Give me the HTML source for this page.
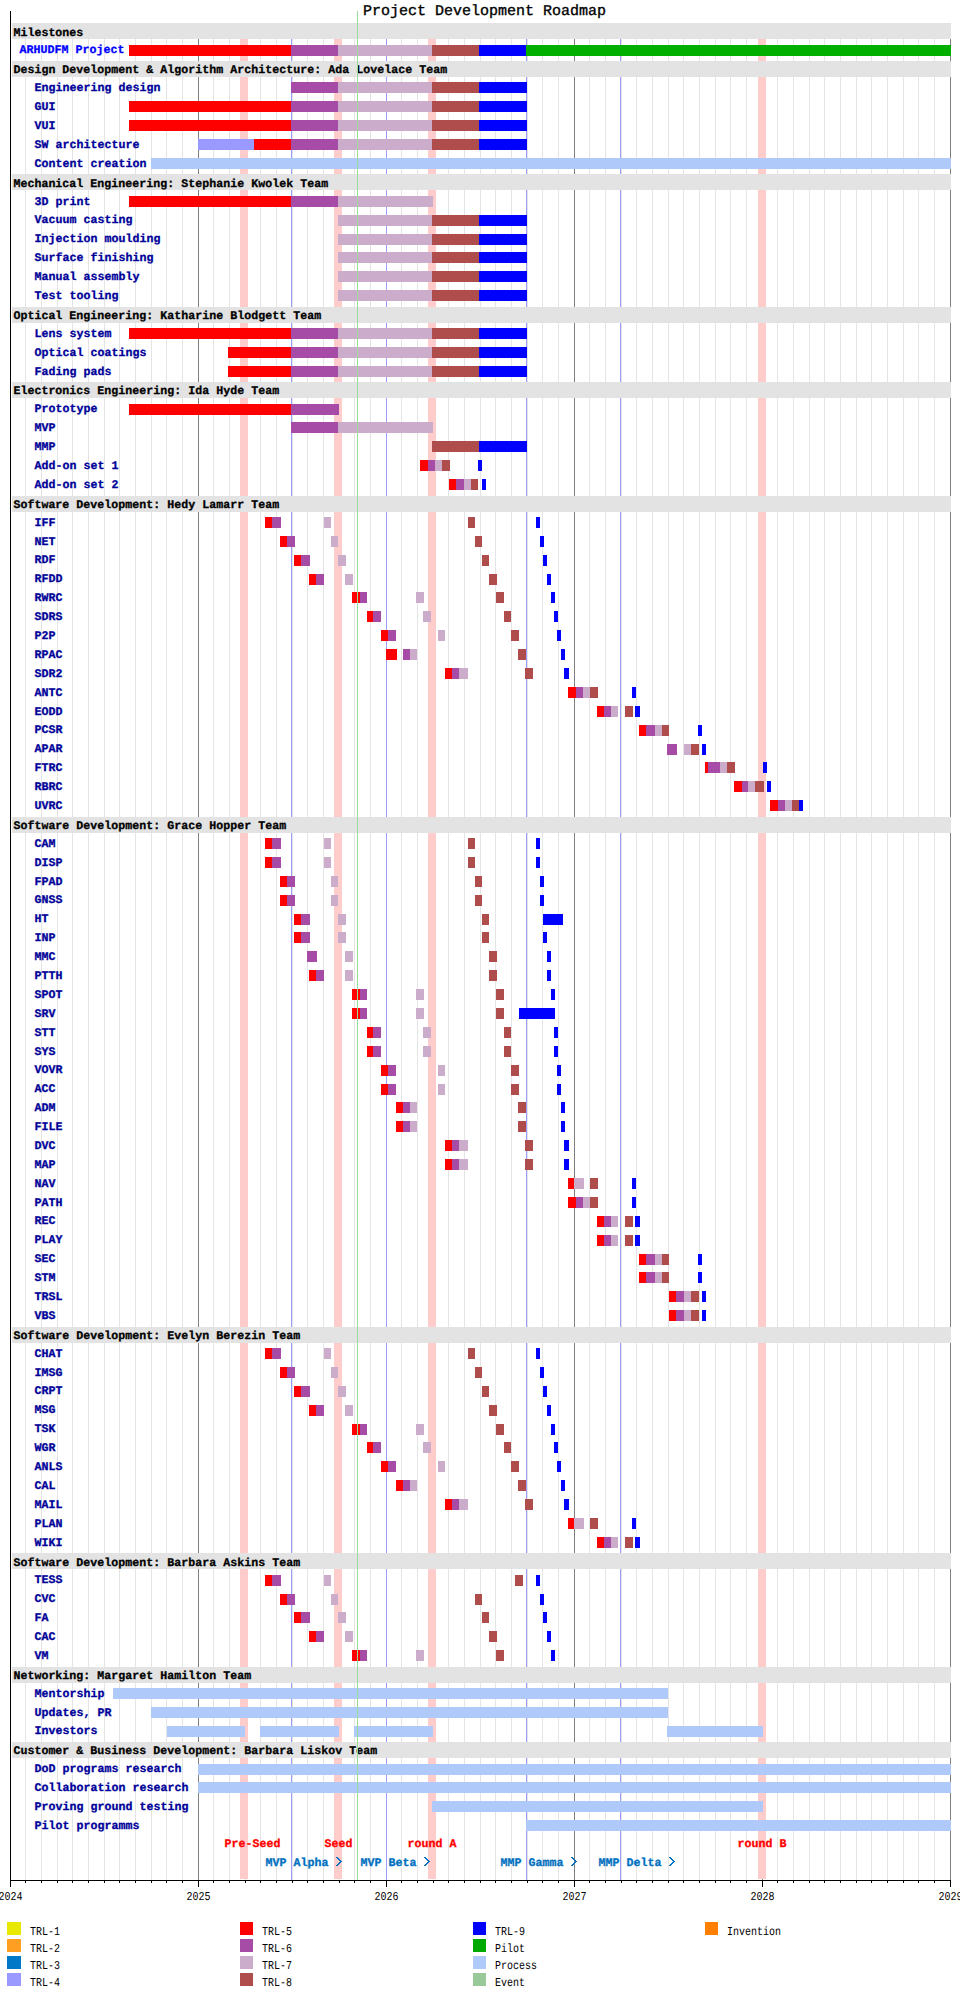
<!DOCTYPE html>
<html><head><meta charset="utf-8"><style>
html,body{margin:0;padding:0;background:#fff;}
svg{display:block;}
text{font-family:"Liberation Mono",monospace;}
.b{font-size:11.6px;font-weight:bold;letter-spacing:0.04px;stroke-width:0.3px;}
.yr{font-size:12px;}
.ti{font-size:15px;stroke-width:0.35px;}
.lg{font-size:12px;}
</style></head><body>
<svg width="960" height="2000" viewBox="0 0 960 2000" shape-rendering="crispEdges" text-rendering="geometricPrecision">
<rect x="0" y="0" width="960" height="2000" fill="#FFFFFF"/>
<rect x="25" y="39" width="1" height="1841" fill="#E4E4E4"/>
<rect x="41" y="39" width="1" height="1841" fill="#E4E4E4"/>
<rect x="57" y="39" width="1" height="1841" fill="#E4E4E4"/>
<rect x="72" y="39" width="1" height="1841" fill="#E4E4E4"/>
<rect x="88" y="39" width="1" height="1841" fill="#E4E4E4"/>
<rect x="104" y="39" width="1" height="1841" fill="#E4E4E4"/>
<rect x="119" y="39" width="1" height="1841" fill="#E4E4E4"/>
<rect x="135" y="39" width="1" height="1841" fill="#E4E4E4"/>
<rect x="151" y="39" width="1" height="1841" fill="#E4E4E4"/>
<rect x="166" y="39" width="1" height="1841" fill="#E4E4E4"/>
<rect x="182" y="39" width="1" height="1841" fill="#E4E4E4"/>
<rect x="213" y="39" width="1" height="1841" fill="#E4E4E4"/>
<rect x="229" y="39" width="1" height="1841" fill="#E4E4E4"/>
<rect x="245" y="39" width="1" height="1841" fill="#E4E4E4"/>
<rect x="260" y="39" width="1" height="1841" fill="#E4E4E4"/>
<rect x="276" y="39" width="1" height="1841" fill="#E4E4E4"/>
<rect x="292" y="39" width="1" height="1841" fill="#E4E4E4"/>
<rect x="307" y="39" width="1" height="1841" fill="#E4E4E4"/>
<rect x="323" y="39" width="1" height="1841" fill="#E4E4E4"/>
<rect x="339" y="39" width="1" height="1841" fill="#E4E4E4"/>
<rect x="354" y="39" width="1" height="1841" fill="#E4E4E4"/>
<rect x="370" y="39" width="1" height="1841" fill="#E4E4E4"/>
<rect x="401" y="39" width="1" height="1841" fill="#E4E4E4"/>
<rect x="417" y="39" width="1" height="1841" fill="#E4E4E4"/>
<rect x="433" y="39" width="1" height="1841" fill="#E4E4E4"/>
<rect x="448" y="39" width="1" height="1841" fill="#E4E4E4"/>
<rect x="464" y="39" width="1" height="1841" fill="#E4E4E4"/>
<rect x="480" y="39" width="1" height="1841" fill="#E4E4E4"/>
<rect x="495" y="39" width="1" height="1841" fill="#E4E4E4"/>
<rect x="511" y="39" width="1" height="1841" fill="#E4E4E4"/>
<rect x="527" y="39" width="1" height="1841" fill="#E4E4E4"/>
<rect x="542" y="39" width="1" height="1841" fill="#E4E4E4"/>
<rect x="558" y="39" width="1" height="1841" fill="#E4E4E4"/>
<rect x="589" y="39" width="1" height="1841" fill="#E4E4E4"/>
<rect x="605" y="39" width="1" height="1841" fill="#E4E4E4"/>
<rect x="621" y="39" width="1" height="1841" fill="#E4E4E4"/>
<rect x="636" y="39" width="1" height="1841" fill="#E4E4E4"/>
<rect x="652" y="39" width="1" height="1841" fill="#E4E4E4"/>
<rect x="668" y="39" width="1" height="1841" fill="#E4E4E4"/>
<rect x="683" y="39" width="1" height="1841" fill="#E4E4E4"/>
<rect x="699" y="39" width="1" height="1841" fill="#E4E4E4"/>
<rect x="715" y="39" width="1" height="1841" fill="#E4E4E4"/>
<rect x="730" y="39" width="1" height="1841" fill="#E4E4E4"/>
<rect x="746" y="39" width="1" height="1841" fill="#E4E4E4"/>
<rect x="777" y="39" width="1" height="1841" fill="#E4E4E4"/>
<rect x="793" y="39" width="1" height="1841" fill="#E4E4E4"/>
<rect x="809" y="39" width="1" height="1841" fill="#E4E4E4"/>
<rect x="824" y="39" width="1" height="1841" fill="#E4E4E4"/>
<rect x="840" y="39" width="1" height="1841" fill="#E4E4E4"/>
<rect x="856" y="39" width="1" height="1841" fill="#E4E4E4"/>
<rect x="871" y="39" width="1" height="1841" fill="#E4E4E4"/>
<rect x="887" y="39" width="1" height="1841" fill="#E4E4E4"/>
<rect x="903" y="39" width="1" height="1841" fill="#E4E4E4"/>
<rect x="918" y="39" width="1" height="1841" fill="#E4E4E4"/>
<rect x="934" y="39" width="1" height="1841" fill="#E4E4E4"/>
<rect x="198" y="39" width="1" height="1841" fill="#7F7F7F"/>
<rect x="386" y="39" width="1" height="1841" fill="#7F7F7F"/>
<rect x="574" y="39" width="1" height="1841" fill="#7F7F7F"/>
<rect x="762" y="39" width="1" height="1841" fill="#7F7F7F"/>
<rect x="950" y="39" width="1" height="1841" fill="#7F7F7F"/>
<rect x="240" y="39" width="8" height="1840" fill="#FFCCCC"/>
<rect x="334" y="39" width="8" height="1840" fill="#FFCCCC"/>
<rect x="428" y="39" width="8" height="1840" fill="#FFCCCC"/>
<rect x="758" y="39" width="8" height="1840" fill="#FFCCCC"/>
<rect x="291" y="39" width="1" height="1841" fill="#9C9CFF"/>
<rect x="386" y="39" width="1" height="1841" fill="#9C9CFF"/>
<rect x="526" y="39" width="1" height="1841" fill="#9C9CFF"/>
<rect x="620" y="39" width="1" height="1841" fill="#9C9CFF"/>
<rect x="12" y="23" width="939" height="16" fill="#E3E3E3"/>
<rect x="12" y="61" width="939" height="16" fill="#E3E3E3"/>
<rect x="12" y="174" width="939" height="16" fill="#E3E3E3"/>
<rect x="12" y="307" width="939" height="16" fill="#E3E3E3"/>
<rect x="12" y="382" width="939" height="16" fill="#E3E3E3"/>
<rect x="12" y="496" width="939" height="16" fill="#E3E3E3"/>
<rect x="12" y="817" width="939" height="16" fill="#E3E3E3"/>
<rect x="12" y="1327" width="939" height="16" fill="#E3E3E3"/>
<rect x="12" y="1553" width="939" height="16" fill="#E3E3E3"/>
<rect x="12" y="1667" width="939" height="16" fill="#E3E3E3"/>
<rect x="12" y="1742" width="939" height="16" fill="#E3E3E3"/>
<rect x="129" y="45" width="162" height="11" fill="#FF0000"/>
<rect x="291" y="45" width="47" height="11" fill="#A64CA6"/>
<rect x="338" y="45" width="94" height="11" fill="#CBADCB"/>
<rect x="432" y="45" width="47" height="11" fill="#AF4C4C"/>
<rect x="479" y="45" width="47" height="11" fill="#0000FF"/>
<rect x="526" y="45" width="425" height="11" fill="#00AF00"/>
<rect x="291" y="82" width="47" height="11" fill="#A64CA6"/>
<rect x="338" y="82" width="94" height="11" fill="#CBADCB"/>
<rect x="432" y="82" width="47" height="11" fill="#AF4C4C"/>
<rect x="479" y="82" width="48" height="11" fill="#0000FF"/>
<rect x="129" y="101" width="162" height="11" fill="#FF0000"/>
<rect x="291" y="101" width="47" height="11" fill="#A64CA6"/>
<rect x="338" y="101" width="94" height="11" fill="#CBADCB"/>
<rect x="432" y="101" width="47" height="11" fill="#AF4C4C"/>
<rect x="479" y="101" width="48" height="11" fill="#0000FF"/>
<rect x="129" y="120" width="162" height="11" fill="#FF0000"/>
<rect x="291" y="120" width="47" height="11" fill="#A64CA6"/>
<rect x="338" y="120" width="94" height="11" fill="#CBADCB"/>
<rect x="432" y="120" width="47" height="11" fill="#AF4C4C"/>
<rect x="479" y="120" width="48" height="11" fill="#0000FF"/>
<rect x="198" y="139" width="56" height="11" fill="#9999FF"/>
<rect x="254" y="139" width="37" height="11" fill="#FF0000"/>
<rect x="291" y="139" width="47" height="11" fill="#A64CA6"/>
<rect x="338" y="139" width="94" height="11" fill="#CBADCB"/>
<rect x="432" y="139" width="47" height="11" fill="#AF4C4C"/>
<rect x="479" y="139" width="48" height="11" fill="#0000FF"/>
<rect x="151" y="158" width="800" height="11" fill="#AFC9FA"/>
<rect x="129" y="196" width="162" height="11" fill="#FF0000"/>
<rect x="291" y="196" width="47" height="11" fill="#A64CA6"/>
<rect x="338" y="196" width="95" height="11" fill="#CBADCB"/>
<rect x="338" y="215" width="94" height="11" fill="#CBADCB"/>
<rect x="432" y="215" width="47" height="11" fill="#AF4C4C"/>
<rect x="479" y="215" width="48" height="11" fill="#0000FF"/>
<rect x="338" y="234" width="94" height="11" fill="#CBADCB"/>
<rect x="432" y="234" width="47" height="11" fill="#AF4C4C"/>
<rect x="479" y="234" width="48" height="11" fill="#0000FF"/>
<rect x="338" y="252" width="94" height="11" fill="#CBADCB"/>
<rect x="432" y="252" width="47" height="11" fill="#AF4C4C"/>
<rect x="479" y="252" width="48" height="11" fill="#0000FF"/>
<rect x="338" y="271" width="94" height="11" fill="#CBADCB"/>
<rect x="432" y="271" width="47" height="11" fill="#AF4C4C"/>
<rect x="479" y="271" width="48" height="11" fill="#0000FF"/>
<rect x="338" y="290" width="94" height="11" fill="#CBADCB"/>
<rect x="432" y="290" width="47" height="11" fill="#AF4C4C"/>
<rect x="479" y="290" width="48" height="11" fill="#0000FF"/>
<rect x="129" y="328" width="162" height="11" fill="#FF0000"/>
<rect x="291" y="328" width="47" height="11" fill="#A64CA6"/>
<rect x="338" y="328" width="94" height="11" fill="#CBADCB"/>
<rect x="432" y="328" width="47" height="11" fill="#AF4C4C"/>
<rect x="479" y="328" width="48" height="11" fill="#0000FF"/>
<rect x="228" y="347" width="63" height="11" fill="#FF0000"/>
<rect x="291" y="347" width="47" height="11" fill="#A64CA6"/>
<rect x="338" y="347" width="94" height="11" fill="#CBADCB"/>
<rect x="432" y="347" width="47" height="11" fill="#AF4C4C"/>
<rect x="479" y="347" width="48" height="11" fill="#0000FF"/>
<rect x="228" y="366" width="63" height="11" fill="#FF0000"/>
<rect x="291" y="366" width="47" height="11" fill="#A64CA6"/>
<rect x="338" y="366" width="94" height="11" fill="#CBADCB"/>
<rect x="432" y="366" width="47" height="11" fill="#AF4C4C"/>
<rect x="479" y="366" width="48" height="11" fill="#0000FF"/>
<rect x="129" y="404" width="162" height="11" fill="#FF0000"/>
<rect x="291" y="404" width="48" height="11" fill="#A64CA6"/>
<rect x="291" y="422" width="47" height="11" fill="#A64CA6"/>
<rect x="338" y="422" width="95" height="11" fill="#CBADCB"/>
<rect x="432" y="441" width="47" height="11" fill="#AF4C4C"/>
<rect x="479" y="441" width="48" height="11" fill="#0000FF"/>
<rect x="420" y="460" width="8" height="11" fill="#FF0000"/>
<rect x="428" y="460" width="7" height="11" fill="#A64CA6"/>
<rect x="435" y="460" width="7" height="11" fill="#CBADCB"/>
<rect x="442" y="460" width="8" height="11" fill="#AF4C4C"/>
<rect x="478" y="460" width="4" height="11" fill="#0000FF"/>
<rect x="449" y="479" width="7" height="11" fill="#FF0000"/>
<rect x="456" y="479" width="8" height="11" fill="#A64CA6"/>
<rect x="464" y="479" width="7" height="11" fill="#CBADCB"/>
<rect x="471" y="479" width="7" height="11" fill="#AF4C4C"/>
<rect x="482" y="479" width="4" height="11" fill="#0000FF"/>
<rect x="265" y="517" width="7" height="11" fill="#FF0000"/>
<rect x="272" y="517" width="9" height="11" fill="#A64CA6"/>
<rect x="324" y="517" width="7" height="11" fill="#CBADCB"/>
<rect x="468" y="517" width="7" height="11" fill="#AF4C4C"/>
<rect x="536" y="517" width="4" height="11" fill="#0000FF"/>
<rect x="280" y="536" width="7" height="11" fill="#FF0000"/>
<rect x="287" y="536" width="8" height="11" fill="#A64CA6"/>
<rect x="331" y="536" width="7" height="11" fill="#CBADCB"/>
<rect x="475" y="536" width="7" height="11" fill="#AF4C4C"/>
<rect x="540" y="536" width="4" height="11" fill="#0000FF"/>
<rect x="294" y="555" width="7" height="11" fill="#FF0000"/>
<rect x="301" y="555" width="9" height="11" fill="#A64CA6"/>
<rect x="338" y="555" width="8" height="11" fill="#CBADCB"/>
<rect x="482" y="555" width="7" height="11" fill="#AF4C4C"/>
<rect x="543" y="555" width="4" height="11" fill="#0000FF"/>
<rect x="309" y="574" width="7" height="11" fill="#FF0000"/>
<rect x="316" y="574" width="8" height="11" fill="#A64CA6"/>
<rect x="345" y="574" width="8" height="11" fill="#CBADCB"/>
<rect x="489" y="574" width="8" height="11" fill="#AF4C4C"/>
<rect x="547" y="574" width="4" height="11" fill="#0000FF"/>
<rect x="352" y="592" width="8" height="11" fill="#FF0000"/>
<rect x="360" y="592" width="7" height="11" fill="#A64CA6"/>
<rect x="416" y="592" width="8" height="11" fill="#CBADCB"/>
<rect x="496" y="592" width="8" height="11" fill="#AF4C4C"/>
<rect x="551" y="592" width="4" height="11" fill="#0000FF"/>
<rect x="367" y="611" width="6" height="11" fill="#FF0000"/>
<rect x="373" y="611" width="8" height="11" fill="#A64CA6"/>
<rect x="423" y="611" width="8" height="11" fill="#CBADCB"/>
<rect x="504" y="611" width="7" height="11" fill="#AF4C4C"/>
<rect x="554" y="611" width="4" height="11" fill="#0000FF"/>
<rect x="381" y="630" width="7" height="11" fill="#FF0000"/>
<rect x="388" y="630" width="8" height="11" fill="#A64CA6"/>
<rect x="438" y="630" width="7" height="11" fill="#CBADCB"/>
<rect x="511" y="630" width="8" height="11" fill="#AF4C4C"/>
<rect x="557" y="630" width="4" height="11" fill="#0000FF"/>
<rect x="386" y="649" width="11" height="11" fill="#FF0000"/>
<rect x="403" y="649" width="7" height="11" fill="#A64CA6"/>
<rect x="410" y="649" width="7" height="11" fill="#CBADCB"/>
<rect x="518" y="649" width="8" height="11" fill="#AF4C4C"/>
<rect x="561" y="649" width="4" height="11" fill="#0000FF"/>
<rect x="445" y="668" width="7" height="11" fill="#FF0000"/>
<rect x="452" y="668" width="7" height="11" fill="#A64CA6"/>
<rect x="459" y="668" width="9" height="11" fill="#CBADCB"/>
<rect x="525" y="668" width="8" height="11" fill="#AF4C4C"/>
<rect x="564" y="668" width="5" height="11" fill="#0000FF"/>
<rect x="568" y="687" width="8" height="11" fill="#FF0000"/>
<rect x="576" y="687" width="7" height="11" fill="#A64CA6"/>
<rect x="583" y="687" width="7" height="11" fill="#CBADCB"/>
<rect x="590" y="687" width="8" height="11" fill="#AF4C4C"/>
<rect x="632" y="687" width="4" height="11" fill="#0000FF"/>
<rect x="597" y="706" width="7" height="11" fill="#FF0000"/>
<rect x="604" y="706" width="7" height="11" fill="#A64CA6"/>
<rect x="611" y="706" width="7" height="11" fill="#CBADCB"/>
<rect x="625" y="706" width="8" height="11" fill="#AF4C4C"/>
<rect x="635" y="706" width="5" height="11" fill="#0000FF"/>
<rect x="639" y="725" width="7" height="11" fill="#FF0000"/>
<rect x="646" y="725" width="9" height="11" fill="#A64CA6"/>
<rect x="655" y="725" width="7" height="11" fill="#CBADCB"/>
<rect x="662" y="725" width="7" height="11" fill="#AF4C4C"/>
<rect x="698" y="725" width="4" height="11" fill="#0000FF"/>
<rect x="667" y="744" width="10" height="11" fill="#A64CA6"/>
<rect x="684" y="744" width="7" height="11" fill="#CBADCB"/>
<rect x="691" y="744" width="8" height="11" fill="#AF4C4C"/>
<rect x="702" y="744" width="4" height="11" fill="#0000FF"/>
<rect x="705" y="762" width="3" height="11" fill="#FF0000"/>
<rect x="708" y="762" width="12" height="11" fill="#A64CA6"/>
<rect x="720" y="762" width="7" height="11" fill="#CBADCB"/>
<rect x="727" y="762" width="8" height="11" fill="#AF4C4C"/>
<rect x="763" y="762" width="4" height="11" fill="#0000FF"/>
<rect x="734" y="781" width="8" height="11" fill="#FF0000"/>
<rect x="742" y="781" width="6" height="11" fill="#A64CA6"/>
<rect x="748" y="781" width="7" height="11" fill="#CBADCB"/>
<rect x="755" y="781" width="9" height="11" fill="#AF4C4C"/>
<rect x="767" y="781" width="4" height="11" fill="#0000FF"/>
<rect x="770" y="800" width="8" height="11" fill="#FF0000"/>
<rect x="778" y="800" width="7" height="11" fill="#A64CA6"/>
<rect x="785" y="800" width="7" height="11" fill="#CBADCB"/>
<rect x="792" y="800" width="7" height="11" fill="#AF4C4C"/>
<rect x="799" y="800" width="4" height="11" fill="#0000FF"/>
<rect x="265" y="838" width="7" height="11" fill="#FF0000"/>
<rect x="272" y="838" width="9" height="11" fill="#A64CA6"/>
<rect x="324" y="838" width="7" height="11" fill="#CBADCB"/>
<rect x="468" y="838" width="7" height="11" fill="#AF4C4C"/>
<rect x="536" y="838" width="4" height="11" fill="#0000FF"/>
<rect x="265" y="857" width="7" height="11" fill="#FF0000"/>
<rect x="272" y="857" width="9" height="11" fill="#A64CA6"/>
<rect x="324" y="857" width="7" height="11" fill="#CBADCB"/>
<rect x="468" y="857" width="7" height="11" fill="#AF4C4C"/>
<rect x="536" y="857" width="4" height="11" fill="#0000FF"/>
<rect x="280" y="876" width="7" height="11" fill="#FF0000"/>
<rect x="287" y="876" width="8" height="11" fill="#A64CA6"/>
<rect x="331" y="876" width="7" height="11" fill="#CBADCB"/>
<rect x="475" y="876" width="7" height="11" fill="#AF4C4C"/>
<rect x="540" y="876" width="4" height="11" fill="#0000FF"/>
<rect x="280" y="895" width="7" height="11" fill="#FF0000"/>
<rect x="287" y="895" width="8" height="11" fill="#A64CA6"/>
<rect x="331" y="895" width="7" height="11" fill="#CBADCB"/>
<rect x="475" y="895" width="7" height="11" fill="#AF4C4C"/>
<rect x="540" y="895" width="4" height="11" fill="#0000FF"/>
<rect x="294" y="914" width="7" height="11" fill="#FF0000"/>
<rect x="301" y="914" width="9" height="11" fill="#A64CA6"/>
<rect x="338" y="914" width="8" height="11" fill="#CBADCB"/>
<rect x="482" y="914" width="7" height="11" fill="#AF4C4C"/>
<rect x="543" y="914" width="20" height="11" fill="#0000FF"/>
<rect x="294" y="932" width="7" height="11" fill="#FF0000"/>
<rect x="301" y="932" width="9" height="11" fill="#A64CA6"/>
<rect x="338" y="932" width="8" height="11" fill="#CBADCB"/>
<rect x="482" y="932" width="7" height="11" fill="#AF4C4C"/>
<rect x="543" y="932" width="4" height="11" fill="#0000FF"/>
<rect x="307" y="951" width="10" height="11" fill="#A64CA6"/>
<rect x="345" y="951" width="8" height="11" fill="#CBADCB"/>
<rect x="489" y="951" width="8" height="11" fill="#AF4C4C"/>
<rect x="547" y="951" width="4" height="11" fill="#0000FF"/>
<rect x="309" y="970" width="7" height="11" fill="#FF0000"/>
<rect x="316" y="970" width="8" height="11" fill="#A64CA6"/>
<rect x="345" y="970" width="8" height="11" fill="#CBADCB"/>
<rect x="489" y="970" width="8" height="11" fill="#AF4C4C"/>
<rect x="547" y="970" width="4" height="11" fill="#0000FF"/>
<rect x="352" y="989" width="8" height="11" fill="#FF0000"/>
<rect x="360" y="989" width="7" height="11" fill="#A64CA6"/>
<rect x="416" y="989" width="8" height="11" fill="#CBADCB"/>
<rect x="496" y="989" width="8" height="11" fill="#AF4C4C"/>
<rect x="551" y="989" width="4" height="11" fill="#0000FF"/>
<rect x="352" y="1008" width="8" height="11" fill="#FF0000"/>
<rect x="360" y="1008" width="7" height="11" fill="#A64CA6"/>
<rect x="416" y="1008" width="8" height="11" fill="#CBADCB"/>
<rect x="496" y="1008" width="8" height="11" fill="#AF4C4C"/>
<rect x="519" y="1008" width="36" height="11" fill="#0000FF"/>
<rect x="367" y="1027" width="6" height="11" fill="#FF0000"/>
<rect x="373" y="1027" width="8" height="11" fill="#A64CA6"/>
<rect x="423" y="1027" width="8" height="11" fill="#CBADCB"/>
<rect x="504" y="1027" width="7" height="11" fill="#AF4C4C"/>
<rect x="554" y="1027" width="4" height="11" fill="#0000FF"/>
<rect x="367" y="1046" width="6" height="11" fill="#FF0000"/>
<rect x="373" y="1046" width="8" height="11" fill="#A64CA6"/>
<rect x="423" y="1046" width="8" height="11" fill="#CBADCB"/>
<rect x="504" y="1046" width="7" height="11" fill="#AF4C4C"/>
<rect x="554" y="1046" width="4" height="11" fill="#0000FF"/>
<rect x="381" y="1065" width="7" height="11" fill="#FF0000"/>
<rect x="388" y="1065" width="8" height="11" fill="#A64CA6"/>
<rect x="438" y="1065" width="7" height="11" fill="#CBADCB"/>
<rect x="511" y="1065" width="8" height="11" fill="#AF4C4C"/>
<rect x="557" y="1065" width="4" height="11" fill="#0000FF"/>
<rect x="381" y="1084" width="7" height="11" fill="#FF0000"/>
<rect x="388" y="1084" width="8" height="11" fill="#A64CA6"/>
<rect x="438" y="1084" width="7" height="11" fill="#CBADCB"/>
<rect x="511" y="1084" width="8" height="11" fill="#AF4C4C"/>
<rect x="557" y="1084" width="4" height="11" fill="#0000FF"/>
<rect x="396" y="1102" width="7" height="11" fill="#FF0000"/>
<rect x="403" y="1102" width="7" height="11" fill="#A64CA6"/>
<rect x="410" y="1102" width="7" height="11" fill="#CBADCB"/>
<rect x="518" y="1102" width="8" height="11" fill="#AF4C4C"/>
<rect x="561" y="1102" width="4" height="11" fill="#0000FF"/>
<rect x="396" y="1121" width="7" height="11" fill="#FF0000"/>
<rect x="403" y="1121" width="7" height="11" fill="#A64CA6"/>
<rect x="410" y="1121" width="7" height="11" fill="#CBADCB"/>
<rect x="518" y="1121" width="8" height="11" fill="#AF4C4C"/>
<rect x="561" y="1121" width="4" height="11" fill="#0000FF"/>
<rect x="445" y="1140" width="7" height="11" fill="#FF0000"/>
<rect x="452" y="1140" width="7" height="11" fill="#A64CA6"/>
<rect x="459" y="1140" width="9" height="11" fill="#CBADCB"/>
<rect x="525" y="1140" width="8" height="11" fill="#AF4C4C"/>
<rect x="564" y="1140" width="5" height="11" fill="#0000FF"/>
<rect x="445" y="1159" width="7" height="11" fill="#FF0000"/>
<rect x="452" y="1159" width="7" height="11" fill="#A64CA6"/>
<rect x="459" y="1159" width="9" height="11" fill="#CBADCB"/>
<rect x="525" y="1159" width="8" height="11" fill="#AF4C4C"/>
<rect x="564" y="1159" width="5" height="11" fill="#0000FF"/>
<rect x="568" y="1178" width="6" height="11" fill="#FF0000"/>
<rect x="574" y="1178" width="10" height="11" fill="#CBADCB"/>
<rect x="590" y="1178" width="8" height="11" fill="#AF4C4C"/>
<rect x="632" y="1178" width="4" height="11" fill="#0000FF"/>
<rect x="568" y="1197" width="8" height="11" fill="#FF0000"/>
<rect x="576" y="1197" width="7" height="11" fill="#A64CA6"/>
<rect x="583" y="1197" width="7" height="11" fill="#CBADCB"/>
<rect x="590" y="1197" width="8" height="11" fill="#AF4C4C"/>
<rect x="632" y="1197" width="4" height="11" fill="#0000FF"/>
<rect x="597" y="1216" width="7" height="11" fill="#FF0000"/>
<rect x="604" y="1216" width="7" height="11" fill="#A64CA6"/>
<rect x="611" y="1216" width="7" height="11" fill="#CBADCB"/>
<rect x="625" y="1216" width="8" height="11" fill="#AF4C4C"/>
<rect x="635" y="1216" width="5" height="11" fill="#0000FF"/>
<rect x="597" y="1235" width="7" height="11" fill="#FF0000"/>
<rect x="604" y="1235" width="7" height="11" fill="#A64CA6"/>
<rect x="611" y="1235" width="7" height="11" fill="#CBADCB"/>
<rect x="625" y="1235" width="8" height="11" fill="#AF4C4C"/>
<rect x="635" y="1235" width="5" height="11" fill="#0000FF"/>
<rect x="639" y="1254" width="7" height="11" fill="#FF0000"/>
<rect x="646" y="1254" width="9" height="11" fill="#A64CA6"/>
<rect x="655" y="1254" width="7" height="11" fill="#CBADCB"/>
<rect x="662" y="1254" width="7" height="11" fill="#AF4C4C"/>
<rect x="698" y="1254" width="4" height="11" fill="#0000FF"/>
<rect x="639" y="1272" width="7" height="11" fill="#FF0000"/>
<rect x="646" y="1272" width="9" height="11" fill="#A64CA6"/>
<rect x="655" y="1272" width="7" height="11" fill="#CBADCB"/>
<rect x="662" y="1272" width="7" height="11" fill="#AF4C4C"/>
<rect x="698" y="1272" width="4" height="11" fill="#0000FF"/>
<rect x="669" y="1291" width="7" height="11" fill="#FF0000"/>
<rect x="676" y="1291" width="8" height="11" fill="#A64CA6"/>
<rect x="684" y="1291" width="7" height="11" fill="#CBADCB"/>
<rect x="691" y="1291" width="8" height="11" fill="#AF4C4C"/>
<rect x="702" y="1291" width="4" height="11" fill="#0000FF"/>
<rect x="669" y="1310" width="7" height="11" fill="#FF0000"/>
<rect x="676" y="1310" width="8" height="11" fill="#A64CA6"/>
<rect x="684" y="1310" width="7" height="11" fill="#CBADCB"/>
<rect x="691" y="1310" width="8" height="11" fill="#AF4C4C"/>
<rect x="702" y="1310" width="4" height="11" fill="#0000FF"/>
<rect x="265" y="1348" width="7" height="11" fill="#FF0000"/>
<rect x="272" y="1348" width="9" height="11" fill="#A64CA6"/>
<rect x="324" y="1348" width="7" height="11" fill="#CBADCB"/>
<rect x="468" y="1348" width="7" height="11" fill="#AF4C4C"/>
<rect x="536" y="1348" width="4" height="11" fill="#0000FF"/>
<rect x="280" y="1367" width="7" height="11" fill="#FF0000"/>
<rect x="287" y="1367" width="8" height="11" fill="#A64CA6"/>
<rect x="331" y="1367" width="7" height="11" fill="#CBADCB"/>
<rect x="475" y="1367" width="7" height="11" fill="#AF4C4C"/>
<rect x="540" y="1367" width="4" height="11" fill="#0000FF"/>
<rect x="294" y="1386" width="7" height="11" fill="#FF0000"/>
<rect x="301" y="1386" width="9" height="11" fill="#A64CA6"/>
<rect x="338" y="1386" width="8" height="11" fill="#CBADCB"/>
<rect x="482" y="1386" width="7" height="11" fill="#AF4C4C"/>
<rect x="543" y="1386" width="4" height="11" fill="#0000FF"/>
<rect x="309" y="1405" width="7" height="11" fill="#FF0000"/>
<rect x="316" y="1405" width="8" height="11" fill="#A64CA6"/>
<rect x="345" y="1405" width="8" height="11" fill="#CBADCB"/>
<rect x="489" y="1405" width="8" height="11" fill="#AF4C4C"/>
<rect x="547" y="1405" width="4" height="11" fill="#0000FF"/>
<rect x="352" y="1424" width="8" height="11" fill="#FF0000"/>
<rect x="360" y="1424" width="7" height="11" fill="#A64CA6"/>
<rect x="416" y="1424" width="8" height="11" fill="#CBADCB"/>
<rect x="496" y="1424" width="8" height="11" fill="#AF4C4C"/>
<rect x="551" y="1424" width="4" height="11" fill="#0000FF"/>
<rect x="367" y="1442" width="6" height="11" fill="#FF0000"/>
<rect x="373" y="1442" width="8" height="11" fill="#A64CA6"/>
<rect x="423" y="1442" width="8" height="11" fill="#CBADCB"/>
<rect x="504" y="1442" width="7" height="11" fill="#AF4C4C"/>
<rect x="554" y="1442" width="4" height="11" fill="#0000FF"/>
<rect x="381" y="1461" width="7" height="11" fill="#FF0000"/>
<rect x="388" y="1461" width="8" height="11" fill="#A64CA6"/>
<rect x="438" y="1461" width="7" height="11" fill="#CBADCB"/>
<rect x="511" y="1461" width="8" height="11" fill="#AF4C4C"/>
<rect x="557" y="1461" width="4" height="11" fill="#0000FF"/>
<rect x="396" y="1480" width="7" height="11" fill="#FF0000"/>
<rect x="403" y="1480" width="7" height="11" fill="#A64CA6"/>
<rect x="410" y="1480" width="7" height="11" fill="#CBADCB"/>
<rect x="518" y="1480" width="8" height="11" fill="#AF4C4C"/>
<rect x="561" y="1480" width="4" height="11" fill="#0000FF"/>
<rect x="445" y="1499" width="7" height="11" fill="#FF0000"/>
<rect x="452" y="1499" width="7" height="11" fill="#A64CA6"/>
<rect x="459" y="1499" width="9" height="11" fill="#CBADCB"/>
<rect x="525" y="1499" width="8" height="11" fill="#AF4C4C"/>
<rect x="564" y="1499" width="5" height="11" fill="#0000FF"/>
<rect x="568" y="1518" width="6" height="11" fill="#FF0000"/>
<rect x="574" y="1518" width="10" height="11" fill="#CBADCB"/>
<rect x="590" y="1518" width="8" height="11" fill="#AF4C4C"/>
<rect x="632" y="1518" width="4" height="11" fill="#0000FF"/>
<rect x="597" y="1537" width="7" height="11" fill="#FF0000"/>
<rect x="604" y="1537" width="7" height="11" fill="#A64CA6"/>
<rect x="611" y="1537" width="7" height="11" fill="#CBADCB"/>
<rect x="625" y="1537" width="8" height="11" fill="#AF4C4C"/>
<rect x="635" y="1537" width="5" height="11" fill="#0000FF"/>
<rect x="265" y="1575" width="7" height="11" fill="#FF0000"/>
<rect x="272" y="1575" width="9" height="11" fill="#A64CA6"/>
<rect x="324" y="1575" width="7" height="11" fill="#CBADCB"/>
<rect x="515" y="1575" width="8" height="11" fill="#AF4C4C"/>
<rect x="536" y="1575" width="4" height="11" fill="#0000FF"/>
<rect x="280" y="1594" width="7" height="11" fill="#FF0000"/>
<rect x="287" y="1594" width="8" height="11" fill="#A64CA6"/>
<rect x="331" y="1594" width="7" height="11" fill="#CBADCB"/>
<rect x="475" y="1594" width="7" height="11" fill="#AF4C4C"/>
<rect x="540" y="1594" width="4" height="11" fill="#0000FF"/>
<rect x="294" y="1612" width="7" height="11" fill="#FF0000"/>
<rect x="301" y="1612" width="9" height="11" fill="#A64CA6"/>
<rect x="338" y="1612" width="8" height="11" fill="#CBADCB"/>
<rect x="482" y="1612" width="7" height="11" fill="#AF4C4C"/>
<rect x="543" y="1612" width="4" height="11" fill="#0000FF"/>
<rect x="309" y="1631" width="7" height="11" fill="#FF0000"/>
<rect x="316" y="1631" width="8" height="11" fill="#A64CA6"/>
<rect x="345" y="1631" width="8" height="11" fill="#CBADCB"/>
<rect x="489" y="1631" width="8" height="11" fill="#AF4C4C"/>
<rect x="547" y="1631" width="4" height="11" fill="#0000FF"/>
<rect x="352" y="1650" width="8" height="11" fill="#FF0000"/>
<rect x="360" y="1650" width="7" height="11" fill="#A64CA6"/>
<rect x="416" y="1650" width="8" height="11" fill="#CBADCB"/>
<rect x="496" y="1650" width="8" height="11" fill="#AF4C4C"/>
<rect x="551" y="1650" width="4" height="11" fill="#0000FF"/>
<rect x="113" y="1688" width="555" height="11" fill="#AFC9FA"/>
<rect x="151" y="1707" width="517" height="11" fill="#AFC9FA"/>
<rect x="167" y="1726" width="78" height="11" fill="#AFC9FA"/>
<rect x="260" y="1726" width="79" height="11" fill="#AFC9FA"/>
<rect x="354" y="1726" width="79" height="11" fill="#AFC9FA"/>
<rect x="667" y="1726" width="96" height="11" fill="#AFC9FA"/>
<rect x="198" y="1764" width="753" height="11" fill="#AFC9FA"/>
<rect x="198" y="1782" width="753" height="11" fill="#AFC9FA"/>
<rect x="432" y="1801" width="331" height="11" fill="#AFC9FA"/>
<rect x="526" y="1820" width="425" height="11" fill="#AFC9FA"/>
<text x="13.4" y="36" class="b" fill="#000000" stroke="#000000">Milestones</text>
<text x="19.6" y="53" class="b" fill="#0000FF" stroke="#0000FF">ARHUDFM Project</text>
<text x="13.4" y="73" class="b" fill="#000000" stroke="#000000">Design Development &amp; Algorithm Architecture: Ada Lovelace Team</text>
<text x="34.6" y="91" class="b" fill="#000099" stroke="#000099">Engineering design</text>
<text x="34.6" y="110" class="b" fill="#000099" stroke="#000099">GUI</text>
<text x="34.6" y="129" class="b" fill="#000099" stroke="#000099">VUI</text>
<text x="34.6" y="148" class="b" fill="#000099" stroke="#000099">SW architecture</text>
<text x="34.6" y="167" class="b" fill="#000099" stroke="#000099">Content creation</text>
<text x="13.4" y="187" class="b" fill="#000000" stroke="#000000">Mechanical Engineering: Stephanie Kwolek Team</text>
<text x="34.6" y="205" class="b" fill="#000099" stroke="#000099">3D print</text>
<text x="34.6" y="223" class="b" fill="#000099" stroke="#000099">Vacuum casting</text>
<text x="34.6" y="242" class="b" fill="#000099" stroke="#000099">Injection moulding</text>
<text x="34.6" y="261" class="b" fill="#000099" stroke="#000099">Surface finishing</text>
<text x="34.6" y="280" class="b" fill="#000099" stroke="#000099">Manual assembly</text>
<text x="34.6" y="299" class="b" fill="#000099" stroke="#000099">Test tooling</text>
<text x="13.4" y="319" class="b" fill="#000000" stroke="#000000">Optical Engineering: Katharine Blodgett Team</text>
<text x="34.6" y="337" class="b" fill="#000099" stroke="#000099">Lens system</text>
<text x="34.6" y="356" class="b" fill="#000099" stroke="#000099">Optical coatings</text>
<text x="34.6" y="375" class="b" fill="#000099" stroke="#000099">Fading pads</text>
<text x="13.4" y="394" class="b" fill="#000000" stroke="#000000">Electronics Engineering: Ida Hyde Team</text>
<text x="34.6" y="412" class="b" fill="#000099" stroke="#000099">Prototype</text>
<text x="34.6" y="431" class="b" fill="#000099" stroke="#000099">MVP</text>
<text x="34.6" y="450" class="b" fill="#000099" stroke="#000099">MMP</text>
<text x="34.6" y="469" class="b" fill="#000099" stroke="#000099">Add-on set 1</text>
<text x="34.6" y="488" class="b" fill="#000099" stroke="#000099">Add-on set 2</text>
<text x="13.4" y="508" class="b" fill="#000000" stroke="#000000">Software Development: Hedy Lamarr Team</text>
<text x="34.6" y="526" class="b" fill="#000099" stroke="#000099">IFF</text>
<text x="34.6" y="545" class="b" fill="#000099" stroke="#000099">NET</text>
<text x="34.6" y="563" class="b" fill="#000099" stroke="#000099">RDF</text>
<text x="34.6" y="582" class="b" fill="#000099" stroke="#000099">RFDD</text>
<text x="34.6" y="601" class="b" fill="#000099" stroke="#000099">RWRC</text>
<text x="34.6" y="620" class="b" fill="#000099" stroke="#000099">SDRS</text>
<text x="34.6" y="639" class="b" fill="#000099" stroke="#000099">P2P</text>
<text x="34.6" y="658" class="b" fill="#000099" stroke="#000099">RPAC</text>
<text x="34.6" y="677" class="b" fill="#000099" stroke="#000099">SDR2</text>
<text x="34.6" y="696" class="b" fill="#000099" stroke="#000099">ANTC</text>
<text x="34.6" y="715" class="b" fill="#000099" stroke="#000099">EODD</text>
<text x="34.6" y="733" class="b" fill="#000099" stroke="#000099">PCSR</text>
<text x="34.6" y="752" class="b" fill="#000099" stroke="#000099">APAR</text>
<text x="34.6" y="771" class="b" fill="#000099" stroke="#000099">FTRC</text>
<text x="34.6" y="790" class="b" fill="#000099" stroke="#000099">RBRC</text>
<text x="34.6" y="809" class="b" fill="#000099" stroke="#000099">UVRC</text>
<text x="13.4" y="829" class="b" fill="#000000" stroke="#000000">Software Development: Grace Hopper Team</text>
<text x="34.6" y="847" class="b" fill="#000099" stroke="#000099">CAM</text>
<text x="34.6" y="866" class="b" fill="#000099" stroke="#000099">DISP</text>
<text x="34.6" y="885" class="b" fill="#000099" stroke="#000099">FPAD</text>
<text x="34.6" y="903" class="b" fill="#000099" stroke="#000099">GNSS</text>
<text x="34.6" y="922" class="b" fill="#000099" stroke="#000099">HT</text>
<text x="34.6" y="941" class="b" fill="#000099" stroke="#000099">INP</text>
<text x="34.6" y="960" class="b" fill="#000099" stroke="#000099">MMC</text>
<text x="34.6" y="979" class="b" fill="#000099" stroke="#000099">PTTH</text>
<text x="34.6" y="998" class="b" fill="#000099" stroke="#000099">SPOT</text>
<text x="34.6" y="1017" class="b" fill="#000099" stroke="#000099">SRV</text>
<text x="34.6" y="1036" class="b" fill="#000099" stroke="#000099">STT</text>
<text x="34.6" y="1055" class="b" fill="#000099" stroke="#000099">SYS</text>
<text x="34.6" y="1073" class="b" fill="#000099" stroke="#000099">VOVR</text>
<text x="34.6" y="1092" class="b" fill="#000099" stroke="#000099">ACC</text>
<text x="34.6" y="1111" class="b" fill="#000099" stroke="#000099">ADM</text>
<text x="34.6" y="1130" class="b" fill="#000099" stroke="#000099">FILE</text>
<text x="34.6" y="1149" class="b" fill="#000099" stroke="#000099">DVC</text>
<text x="34.6" y="1168" class="b" fill="#000099" stroke="#000099">MAP</text>
<text x="34.6" y="1187" class="b" fill="#000099" stroke="#000099">NAV</text>
<text x="34.6" y="1206" class="b" fill="#000099" stroke="#000099">PATH</text>
<text x="34.6" y="1224" class="b" fill="#000099" stroke="#000099">REC</text>
<text x="34.6" y="1243" class="b" fill="#000099" stroke="#000099">PLAY</text>
<text x="34.6" y="1262" class="b" fill="#000099" stroke="#000099">SEC</text>
<text x="34.6" y="1281" class="b" fill="#000099" stroke="#000099">STM</text>
<text x="34.6" y="1300" class="b" fill="#000099" stroke="#000099">TRSL</text>
<text x="34.6" y="1319" class="b" fill="#000099" stroke="#000099">VBS</text>
<text x="13.4" y="1339" class="b" fill="#000000" stroke="#000000">Software Development: Evelyn Berezin Team</text>
<text x="34.6" y="1357" class="b" fill="#000099" stroke="#000099">CHAT</text>
<text x="34.6" y="1376" class="b" fill="#000099" stroke="#000099">IMSG</text>
<text x="34.6" y="1394" class="b" fill="#000099" stroke="#000099">CRPT</text>
<text x="34.6" y="1413" class="b" fill="#000099" stroke="#000099">MSG</text>
<text x="34.6" y="1432" class="b" fill="#000099" stroke="#000099">TSK</text>
<text x="34.6" y="1451" class="b" fill="#000099" stroke="#000099">WGR</text>
<text x="34.6" y="1470" class="b" fill="#000099" stroke="#000099">ANLS</text>
<text x="34.6" y="1489" class="b" fill="#000099" stroke="#000099">CAL</text>
<text x="34.6" y="1508" class="b" fill="#000099" stroke="#000099">MAIL</text>
<text x="34.6" y="1527" class="b" fill="#000099" stroke="#000099">PLAN</text>
<text x="34.6" y="1546" class="b" fill="#000099" stroke="#000099">WIKI</text>
<text x="13.4" y="1566" class="b" fill="#000000" stroke="#000000">Software Development: Barbara Askins Team</text>
<text x="34.6" y="1583" class="b" fill="#000099" stroke="#000099">TESS</text>
<text x="34.6" y="1602" class="b" fill="#000099" stroke="#000099">CVC</text>
<text x="34.6" y="1621" class="b" fill="#000099" stroke="#000099">FA</text>
<text x="34.6" y="1640" class="b" fill="#000099" stroke="#000099">CAC</text>
<text x="34.6" y="1659" class="b" fill="#000099" stroke="#000099">VM</text>
<text x="13.4" y="1679" class="b" fill="#000000" stroke="#000000">Networking: Margaret Hamilton Team</text>
<text x="34.6" y="1697" class="b" fill="#000099" stroke="#000099">Mentorship</text>
<text x="34.6" y="1716" class="b" fill="#000099" stroke="#000099">Updates, PR</text>
<text x="34.6" y="1734" class="b" fill="#000099" stroke="#000099">Investors</text>
<text x="13.4" y="1754" class="b" fill="#000000" stroke="#000000">Customer &amp; Business Development: Barbara Liskov Team</text>
<text x="34.6" y="1772" class="b" fill="#000099" stroke="#000099">DoD programs research</text>
<text x="34.6" y="1791" class="b" fill="#000099" stroke="#000099">Collaboration research</text>
<text x="34.6" y="1810" class="b" fill="#000099" stroke="#000099">Proving ground testing</text>
<text x="34.6" y="1829" class="b" fill="#000099" stroke="#000099">Pilot programms</text>
<text x="224.6" y="1847" class="b" fill="#FF0000" stroke="#FF0000">Pre-Seed</text>
<text x="324.6" y="1847" class="b" fill="#FF0000" stroke="#FF0000">Seed</text>
<text x="407.6" y="1847" class="b" fill="#FF0000" stroke="#FF0000">round A</text>
<text x="737.6" y="1847" class="b" fill="#FF0000" stroke="#FF0000">round B</text>
<text x="265.6" y="1866" class="b" fill="#0070C0" stroke="#0070C0">MVP Alpha</text>
<rect x="336" y="1857" width="2" height="1" fill="#0070C0"/>
<rect x="337" y="1858" width="2" height="1" fill="#0070C0"/>
<rect x="338" y="1859" width="2" height="1" fill="#0070C0"/>
<rect x="339" y="1860" width="2" height="1" fill="#0070C0"/>
<rect x="340" y="1861" width="2" height="1" fill="#0070C0"/>
<rect x="339" y="1862" width="2" height="1" fill="#0070C0"/>
<rect x="338" y="1863" width="2" height="1" fill="#0070C0"/>
<rect x="337" y="1864" width="2" height="1" fill="#0070C0"/>
<rect x="336" y="1865" width="2" height="1" fill="#0070C0"/>
<text x="360.6" y="1866" class="b" fill="#0070C0" stroke="#0070C0">MVP Beta</text>
<rect x="424" y="1857" width="2" height="1" fill="#0070C0"/>
<rect x="425" y="1858" width="2" height="1" fill="#0070C0"/>
<rect x="426" y="1859" width="2" height="1" fill="#0070C0"/>
<rect x="427" y="1860" width="2" height="1" fill="#0070C0"/>
<rect x="428" y="1861" width="2" height="1" fill="#0070C0"/>
<rect x="427" y="1862" width="2" height="1" fill="#0070C0"/>
<rect x="426" y="1863" width="2" height="1" fill="#0070C0"/>
<rect x="425" y="1864" width="2" height="1" fill="#0070C0"/>
<rect x="424" y="1865" width="2" height="1" fill="#0070C0"/>
<text x="500.6" y="1866" class="b" fill="#0070C0" stroke="#0070C0">MMP Gamma</text>
<rect x="571" y="1857" width="2" height="1" fill="#0070C0"/>
<rect x="572" y="1858" width="2" height="1" fill="#0070C0"/>
<rect x="573" y="1859" width="2" height="1" fill="#0070C0"/>
<rect x="574" y="1860" width="2" height="1" fill="#0070C0"/>
<rect x="575" y="1861" width="2" height="1" fill="#0070C0"/>
<rect x="574" y="1862" width="2" height="1" fill="#0070C0"/>
<rect x="573" y="1863" width="2" height="1" fill="#0070C0"/>
<rect x="572" y="1864" width="2" height="1" fill="#0070C0"/>
<rect x="571" y="1865" width="2" height="1" fill="#0070C0"/>
<text x="598.6" y="1866" class="b" fill="#0070C0" stroke="#0070C0">MMP Delta</text>
<rect x="669" y="1857" width="2" height="1" fill="#0070C0"/>
<rect x="670" y="1858" width="2" height="1" fill="#0070C0"/>
<rect x="671" y="1859" width="2" height="1" fill="#0070C0"/>
<rect x="672" y="1860" width="2" height="1" fill="#0070C0"/>
<rect x="673" y="1861" width="2" height="1" fill="#0070C0"/>
<rect x="672" y="1862" width="2" height="1" fill="#0070C0"/>
<rect x="671" y="1863" width="2" height="1" fill="#0070C0"/>
<rect x="670" y="1864" width="2" height="1" fill="#0070C0"/>
<rect x="669" y="1865" width="2" height="1" fill="#0070C0"/>
<rect x="10" y="1880" width="941" height="1" fill="#000000"/>
<rect x="10" y="11" width="1" height="1876" fill="#000000"/>
<rect x="10" y="1880" width="1" height="7" fill="#000000"/>
<rect x="25" y="1880" width="1" height="3" fill="#000000"/>
<rect x="41" y="1880" width="1" height="3" fill="#000000"/>
<rect x="57" y="1880" width="1" height="3" fill="#000000"/>
<rect x="72" y="1880" width="1" height="3" fill="#000000"/>
<rect x="88" y="1880" width="1" height="3" fill="#000000"/>
<rect x="104" y="1880" width="1" height="3" fill="#000000"/>
<rect x="119" y="1880" width="1" height="3" fill="#000000"/>
<rect x="135" y="1880" width="1" height="3" fill="#000000"/>
<rect x="151" y="1880" width="1" height="3" fill="#000000"/>
<rect x="166" y="1880" width="1" height="3" fill="#000000"/>
<rect x="182" y="1880" width="1" height="3" fill="#000000"/>
<rect x="198" y="1880" width="1" height="7" fill="#000000"/>
<rect x="213" y="1880" width="1" height="3" fill="#000000"/>
<rect x="229" y="1880" width="1" height="3" fill="#000000"/>
<rect x="245" y="1880" width="1" height="3" fill="#000000"/>
<rect x="260" y="1880" width="1" height="3" fill="#000000"/>
<rect x="276" y="1880" width="1" height="3" fill="#000000"/>
<rect x="292" y="1880" width="1" height="3" fill="#000000"/>
<rect x="307" y="1880" width="1" height="3" fill="#000000"/>
<rect x="323" y="1880" width="1" height="3" fill="#000000"/>
<rect x="339" y="1880" width="1" height="3" fill="#000000"/>
<rect x="354" y="1880" width="1" height="3" fill="#000000"/>
<rect x="370" y="1880" width="1" height="3" fill="#000000"/>
<rect x="386" y="1880" width="1" height="7" fill="#000000"/>
<rect x="401" y="1880" width="1" height="3" fill="#000000"/>
<rect x="417" y="1880" width="1" height="3" fill="#000000"/>
<rect x="433" y="1880" width="1" height="3" fill="#000000"/>
<rect x="448" y="1880" width="1" height="3" fill="#000000"/>
<rect x="464" y="1880" width="1" height="3" fill="#000000"/>
<rect x="480" y="1880" width="1" height="3" fill="#000000"/>
<rect x="495" y="1880" width="1" height="3" fill="#000000"/>
<rect x="511" y="1880" width="1" height="3" fill="#000000"/>
<rect x="527" y="1880" width="1" height="3" fill="#000000"/>
<rect x="542" y="1880" width="1" height="3" fill="#000000"/>
<rect x="558" y="1880" width="1" height="3" fill="#000000"/>
<rect x="574" y="1880" width="1" height="7" fill="#000000"/>
<rect x="589" y="1880" width="1" height="3" fill="#000000"/>
<rect x="605" y="1880" width="1" height="3" fill="#000000"/>
<rect x="621" y="1880" width="1" height="3" fill="#000000"/>
<rect x="636" y="1880" width="1" height="3" fill="#000000"/>
<rect x="652" y="1880" width="1" height="3" fill="#000000"/>
<rect x="668" y="1880" width="1" height="3" fill="#000000"/>
<rect x="683" y="1880" width="1" height="3" fill="#000000"/>
<rect x="699" y="1880" width="1" height="3" fill="#000000"/>
<rect x="715" y="1880" width="1" height="3" fill="#000000"/>
<rect x="730" y="1880" width="1" height="3" fill="#000000"/>
<rect x="746" y="1880" width="1" height="3" fill="#000000"/>
<rect x="762" y="1880" width="1" height="7" fill="#000000"/>
<rect x="777" y="1880" width="1" height="3" fill="#000000"/>
<rect x="793" y="1880" width="1" height="3" fill="#000000"/>
<rect x="809" y="1880" width="1" height="3" fill="#000000"/>
<rect x="824" y="1880" width="1" height="3" fill="#000000"/>
<rect x="840" y="1880" width="1" height="3" fill="#000000"/>
<rect x="856" y="1880" width="1" height="3" fill="#000000"/>
<rect x="871" y="1880" width="1" height="3" fill="#000000"/>
<rect x="887" y="1880" width="1" height="3" fill="#000000"/>
<rect x="903" y="1880" width="1" height="3" fill="#000000"/>
<rect x="918" y="1880" width="1" height="3" fill="#000000"/>
<rect x="934" y="1880" width="1" height="3" fill="#000000"/>
<rect x="950" y="1880" width="1" height="7" fill="#000000"/>
<text x="0" y="0" class="yr" text-anchor="middle" fill="#000000" transform="translate(10.5,1900) scale(0.833,1)">2024</text>
<text x="0" y="0" class="yr" text-anchor="middle" fill="#000000" transform="translate(198.5,1900) scale(0.833,1)">2025</text>
<text x="0" y="0" class="yr" text-anchor="middle" fill="#000000" transform="translate(386.5,1900) scale(0.833,1)">2026</text>
<text x="0" y="0" class="yr" text-anchor="middle" fill="#000000" transform="translate(574.5,1900) scale(0.833,1)">2027</text>
<text x="0" y="0" class="yr" text-anchor="middle" fill="#000000" transform="translate(762.5,1900) scale(0.833,1)">2028</text>
<text x="0" y="0" class="yr" text-anchor="middle" fill="#000000" transform="translate(950.5,1900) scale(0.833,1)">2029</text>
<rect x="357" y="11" width="1" height="1869" fill="#99DD99"/>
<text x="363" y="15" class="ti" fill="#000000" stroke="#000000">Project Development Roadmap</text>
<rect x="7" y="1922" width="14" height="13" fill="#E8E800"/>
<text x="0" y="0" class="lg" fill="#000000" transform="translate(30,1935) scale(0.833,1)">TRL-1</text>
<rect x="7" y="1939" width="14" height="13" fill="#FF9F22"/>
<text x="0" y="0" class="lg" fill="#000000" transform="translate(30,1952) scale(0.833,1)">TRL-2</text>
<rect x="7" y="1956" width="14" height="13" fill="#0078C8"/>
<text x="0" y="0" class="lg" fill="#000000" transform="translate(30,1969) scale(0.833,1)">TRL-3</text>
<rect x="7" y="1973" width="14" height="13" fill="#9999FF"/>
<text x="0" y="0" class="lg" fill="#000000" transform="translate(30,1986) scale(0.833,1)">TRL-4</text>
<rect x="240" y="1922" width="13" height="13" fill="#FF0000"/>
<text x="0" y="0" class="lg" fill="#000000" transform="translate(262,1935) scale(0.833,1)">TRL-5</text>
<rect x="240" y="1939" width="13" height="13" fill="#A64CA6"/>
<text x="0" y="0" class="lg" fill="#000000" transform="translate(262,1952) scale(0.833,1)">TRL-6</text>
<rect x="240" y="1956" width="13" height="13" fill="#CBADCB"/>
<text x="0" y="0" class="lg" fill="#000000" transform="translate(262,1969) scale(0.833,1)">TRL-7</text>
<rect x="240" y="1973" width="13" height="13" fill="#AF4C4C"/>
<text x="0" y="0" class="lg" fill="#000000" transform="translate(262,1986) scale(0.833,1)">TRL-8</text>
<rect x="473" y="1922" width="13" height="13" fill="#0000FF"/>
<text x="0" y="0" class="lg" fill="#000000" transform="translate(495,1935) scale(0.833,1)">TRL-9</text>
<rect x="473" y="1939" width="13" height="13" fill="#00AA00"/>
<text x="0" y="0" class="lg" fill="#000000" transform="translate(495,1952) scale(0.833,1)">Pilot</text>
<rect x="473" y="1956" width="13" height="13" fill="#AFC9FA"/>
<text x="0" y="0" class="lg" fill="#000000" transform="translate(495,1969) scale(0.833,1)">Process</text>
<rect x="473" y="1973" width="13" height="13" fill="#99C999"/>
<text x="0" y="0" class="lg" fill="#000000" transform="translate(495,1986) scale(0.833,1)">Event</text>
<rect x="705" y="1922" width="13" height="13" fill="#FF8000"/>
<text x="0" y="0" class="lg" fill="#000000" transform="translate(727,1935) scale(0.833,1)">Invention</text>
</svg>
</body></html>
